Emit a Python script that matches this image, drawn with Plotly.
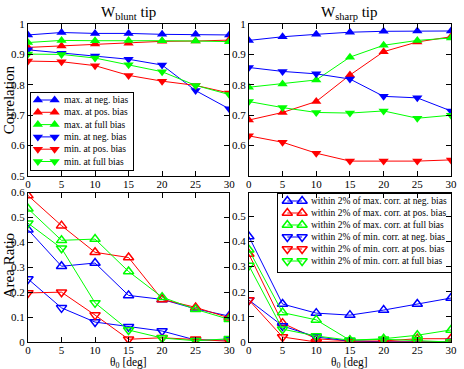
import plotly.graph_objects as go

theta = [0, 5, 10, 15, 20, 25, 30]

# Top-left: W_blunt correlation
blunt_max_neg = [0.964, 0.972, 0.969, 0.969, 0.966, 0.966, 0.964]
blunt_max_pos = [0.923, 0.928, 0.934, 0.937, 0.943, 0.944, 0.947]
blunt_max_full = [0.939, 0.946, 0.945, 0.946, 0.945, 0.944, 0.942]
blunt_min_neg = [0.915, 0.904, 0.895, 0.884, 0.865, 0.781, 0.721]
blunt_min_pos = [0.878, 0.876, 0.863, 0.831, 0.812, 0.798, 0.773]
blunt_min_full = [0.901, 0.900, 0.888, 0.866, 0.843, 0.798, 0.768]

# Top-right: W_sharp correlation
sharp_max_neg = [0.946, 0.958, 0.966, 0.973, 0.976, 0.977, 0.977]
sharp_max_pos = [0.684, 0.709, 0.745, 0.832, 0.909, 0.941, 0.958]
sharp_max_full = [0.792, 0.803, 0.816, 0.891, 0.930, 0.946, 0.954]
sharp_min_neg = [0.857, 0.844, 0.836, 0.819, 0.762, 0.757, 0.714]
sharp_min_pos = [0.632, 0.611, 0.575, 0.549, 0.549, 0.549, 0.553]
sharp_min_full = [0.745, 0.725, 0.709, 0.707, 0.714, 0.690, 0.700]

# Bottom-left: area ratio (blunt)
area_b_max_neg = [0.451, 0.304, 0.317, 0.187, 0.171, 0.133, 0.104]
area_b_max_pos = [0.588, 0.467, 0.360, 0.339, 0.171, 0.139, 0.097]
area_b_max_full = [0.535, 0.408, 0.413, 0.283, 0.180, 0.131, 0.091]
area_b_min_neg = [0.253, 0.137, 0.080, 0.061, 0.044, 0.008, 0.008]
area_b_min_pos = [0.197, 0.200, 0.108, 0.011, 0.017, 0.011, 0.003]
area_b_min_full = [0.477, 0.376, 0.157, 0.048, 0.016, 0.005, 0.013]

# Bottom-right: area ratio (sharp)
area_s_max_neg = [0.420, 0.151, 0.115, 0.107, 0.127, 0.151, 0.175]
area_s_max_pos = [0.350, 0.075, 0.013, 0.004, 0.004, 0.013, 0.013]
area_s_max_full = [0.367, 0.117, 0.088, 0.007, 0.013, 0.027, 0.048]
area_s_min_neg = [0.167, 0.064, 0.020, 0.004, 0.001, 0.001, 0.001]
area_s_min_pos = [0.167, 0.020, 0.000, 0.000, 0.000, 0.000, 0.000]
area_s_min_full = [0.304, 0.051, 0.024, 0.007, 0.011, 0.004, 0.000]

top_names = ["max. at neg. bias", "max. at pos. bias", "max. at full bias",
             "min. at neg. bias", "min. at pos. bias", "min. at full bias"]
bot_names = ["within 2% of max. corr. at neg. bias", "within 2% of max. corr. at pos. bias",
             "within 2% of max. corr. at full bias", "within 2% of min. corr. at neg. bias",
             "within 2% of min. corr. at pos. bias", "within 2% of min. corr. at full bias"]

colors = ["#0000ff", "#ff0000", "#00ff00", "#0000ff", "#ff0000", "#00ff00"]
symbols = ["triangle-up", "triangle-up", "triangle-up", "triangle-down", "triangle-down", "triangle-down"]

FONT = "Liberation Serif"
W, H = 464, 369
ML, MR, MT, MB = 28, 7, 24, 27
PW, PH = W - ML - MR, H - MT - MB


def px_x(p):
    return (p - ML) / PW


def px_y(p):
    return (H - MB - p) / PH


panels = [
    ("x", "y", [blunt_max_neg, blunt_max_pos, blunt_max_full, blunt_min_neg, blunt_min_pos, blunt_min_full], False),
    ("x2", "y2", [sharp_max_neg, sharp_max_pos, sharp_max_full, sharp_min_neg, sharp_min_pos, sharp_min_full], False),
    ("x3", "y3", [area_b_max_neg, area_b_max_pos, area_b_max_full, area_b_min_neg, area_b_min_pos, area_b_min_full], True),
    ("x4", "y4", [area_s_max_neg, area_s_max_pos, area_s_max_full, area_s_min_neg, area_s_min_pos, area_s_min_full], True),
]

fig = go.Figure()
for xa, ya, series, open_m in panels:
    for i, vals in enumerate(series):
        sym = symbols[i] + ("-open" if open_m else "")
        fig.add_trace(go.Scatter(
            x=theta, y=vals, xaxis=xa, yaxis=ya, mode="lines+markers",
            line=dict(color=colors[i], width=1),
            marker=dict(symbol=sym, size=9, color=colors[i],
                        line=dict(color=colors[i], width=1.5 if open_m else 0)),
            showlegend=False, hoverinfo="skip",
        ))

# xmgrace-style legends: box placed in pixel units on its own hidden axes
legends = [
    # (xaxis, yaxis, box px (x0, y0, x1, y1), names, open markers, row step, key x positions, text x)
    ("x5", "y5", (31, 93, 134, 170), top_names, False, 12.3, (7, 24), 31),
    ("x6", "y6", (282, 194, 457, 272), bot_names, True, 12.0, (9, 24), 31),
]
legend_axes = {}
annotations = []
for xa, ya, box, names, open_m, step, keys, tx in legends:
    x0, y0, x1, y1 = box
    bw, bh = x1 - x0, y1 - y0
    for i, nm in enumerate(names):
        ry = 7 + step * i
        sym = symbols[i] + ("-open" if open_m else "")
        fig.add_trace(go.Scatter(
            x=list(keys), y=[ry, ry], xaxis=xa, yaxis=ya, mode="lines+markers",
            line=dict(color=colors[i], width=1),
            marker=dict(symbol=sym, size=9, color=colors[i],
                        line=dict(color=colors[i], width=1.5 if open_m else 0)),
            showlegend=False, hoverinfo="skip",
        ))
        annotations.append(dict(text=nm, x=tx, y=ry, xref=xa, yref=ya, xanchor="left", yanchor="middle",
                                showarrow=False, font=dict(family=FONT, size=9.5, color="black")))
    legend_axes["xaxis" + xa[1:]] = dict(domain=[px_x(x0), px_x(x1)], range=[0, bw], anchor=ya,
                                         showline=True, mirror=True, linecolor="black", linewidth=1,
                                         showticklabels=False, ticks="", showgrid=False, zeroline=False,
                                         fixedrange=True)
    legend_axes["yaxis" + ya[1:]] = dict(domain=[px_y(y1), px_y(y0)], range=[bh, 0], anchor=xa,
                                         showline=True, mirror=True, linecolor="black", linewidth=1,
                                         showticklabels=False, ticks="", showgrid=False, zeroline=False,
                                         fixedrange=True)

axis_common = dict(showline=True, linecolor="black", linewidth=1, mirror="ticks",
                   ticks="inside", ticklen=5, tickcolor="black", showgrid=False,
                   zeroline=False, tickfont=dict(family=FONT, size=11, color="black"))

xdom_l = [0, px_x(232)]
xdom_r = [px_x(252), 1.0]
ydom_t = [px_y(176), 1.0]
ydom_b = [0, px_y(192.5)]
xt = dict(range=[0, 30], tickvals=[0, 5, 10, 15, 20, 25, 30], ticklabelstandoff=-2)

annotations += [
    dict(text="W<sub>blunt</sub> tip", x=(xdom_l[0] + xdom_l[1]) / 2, y=1.0, xref="paper", yref="paper",
         xanchor="center", yanchor="bottom", showarrow=False,
         font=dict(family=FONT, size=15, color="black")),
    dict(text="W<sub>sharp</sub> tip", x=(xdom_r[0] + xdom_r[1]) / 2, y=1.0, xref="paper", yref="paper",
         xanchor="center", yanchor="bottom", showarrow=False,
         font=dict(family=FONT, size=15, color="black")),
    dict(text="Correlation", x=px_x(9), y=px_y(100), xref="paper", yref="paper", textangle=-90,
         xanchor="center", yanchor="middle", showarrow=False,
         font=dict(family=FONT, size=15, color="black")),
    dict(text="Area Ratio", x=px_x(9), y=px_y(266), xref="paper", yref="paper", textangle=-90,
         xanchor="center", yanchor="middle", showarrow=False,
         font=dict(family=FONT, size=15, color="black")),
    dict(text="θ<sub>0</sub> [deg]", x=(xdom_l[0] + xdom_l[1]) / 2, y=px_y(353.5), xref="paper", yref="paper",
         xanchor="center", yanchor="top", showarrow=False,
         font=dict(family=FONT, size=11.5, color="black")),
    dict(text="θ<sub>0</sub> [deg]", x=(xdom_r[0] + xdom_r[1]) / 2, y=px_y(353.5), xref="paper", yref="paper",
         xanchor="center", yanchor="top", showarrow=False,
         font=dict(family=FONT, size=11.5, color="black")),
]

fig.update_layout(
    width=W, height=H,
    margin=dict(l=ML, r=MR, t=MT, b=MB),
    paper_bgcolor="white", plot_bgcolor="rgba(0,0,0,0)",
    font=dict(family=FONT, color="black"),
    showlegend=False,
    xaxis=dict(domain=xdom_l, anchor="y", **xt, **axis_common),
    yaxis=dict(domain=ydom_t, anchor="x", range=[0.5, 1.0],
               tickvals=[0.5, 0.6, 0.7, 0.8, 0.9, 1.0], ticktext=["0.5", "0.6", "0.7", "0.8", "0.9", "1"], **axis_common),
    xaxis2=dict(domain=xdom_r, anchor="y2", **xt, **axis_common),
    yaxis2=dict(domain=ydom_t, anchor="x2", range=[0.5, 1.0],
                tickvals=[0.6, 0.7, 0.8, 0.9, 1.0], ticktext=["0.6", "0.7", "0.8", "0.9", "1"], **axis_common),
    xaxis3=dict(domain=xdom_l, anchor="y3", **xt, **axis_common),
    yaxis3=dict(domain=ydom_b, anchor="x3", range=[0, 0.6],
                tickvals=[0, 0.1, 0.2, 0.3, 0.4, 0.5, 0.6], ticktext=["0", "0.1", "0.2", "0.3", "0.4", "0.5", "0.6"], **axis_common),
    xaxis4=dict(domain=xdom_r, anchor="y4", **xt, **axis_common),
    yaxis4=dict(domain=ydom_b, anchor="x4", range=[0, 0.595],
                tickvals=[0, 0.1, 0.2, 0.3, 0.4, 0.5], ticktext=["0", "0.1", "0.2", "0.3", "0.4", "0.5"], **axis_common),
    annotations=annotations,
    **legend_axes,
)

fig.write_html("out.html")
